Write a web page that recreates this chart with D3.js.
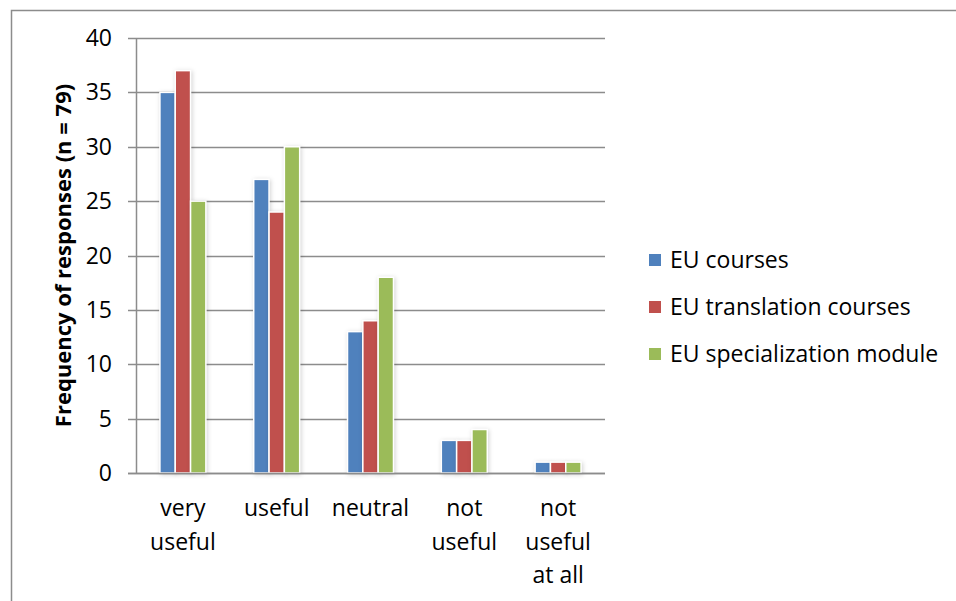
<!DOCTYPE html>
<html>
<head>
<meta charset="utf-8">
<script src="https://cdn.jsdelivr.net/npm/d3@7"></script>
<style>
  body { margin: 0; background: #fff; }
  text { font-family: "Open Sans", "DejaVu Sans", sans-serif; fill: #000; }
</style>
</head>
<body>
<div id="chart"></div>
<script>
// data
var categories = ["very useful", "useful", "neutral", "not useful", "not useful at all"];
var catLines = [["very", "useful"], ["useful"], ["neutral"], ["not", "useful"], ["not", "useful", "at all"]];
var seriesNames = ["EU courses", "EU translation courses", "EU specialization module"];
var euCourses = [35, 27, 13, 3, 1];
var euTranslation = [37, 24, 14, 3, 1];
var euSpecialization = [25, 30, 18, 4, 1];
var yTicks = [0, 5, 10, 15, 20, 25, 30, 35, 40];
var colors = ["#4f81bd", "#c0504d", "#9bbb59"];

var seriesValues = [euCourses, euTranslation, euSpecialization];

var W = 956, H = 601;
var plot = {left: 136, right: 605, top: 38, bottom: 473};

var svg = d3.select("#chart")
    .append("svg")
    .attr("width", W)
    .attr("height", H);

// outer chart frame (bottom and right fall outside the picture)
svg.append("path")
    .attr("d", "M11.5," + H + " L11.5,10.5 L" + W + ",10.5")
    .attr("fill", "none")
    .attr("stroke", "#8c8c8c")
    .attr("stroke-width", 1.5);

var x0 = d3.scaleBand()
    .domain(categories)
    .range([plot.left, plot.right])
    .paddingInner(0.51)
    .paddingOuter(0.255);

var x1 = d3.scaleBand()
    .domain(seriesNames)
    .range([0, x0.bandwidth()]);

var y = d3.scaleLinear()
    .domain([0, 40])
    .range([plot.bottom, plot.top]);

// gridlines + left ticks
svg.append("g")
    .selectAll("line")
    .data(yTicks)
    .enter().append("line")
    .attr("x1", plot.left - 8)
    .attr("x2", plot.right)
    .attr("y1", function(d) { return Math.round(y(d)) + 0.5; })
    .attr("y2", function(d) { return Math.round(y(d)) + 0.5; })
    .attr("stroke", "#8c8c8c")
    .attr("stroke-width", 1.5);

// y axis line
svg.append("line")
    .attr("x1", plot.left + 0.5)
    .attr("x2", plot.left + 0.5)
    .attr("y1", y(40))
    .attr("y2", y(0))
    .attr("stroke", "#8c8c8c")
    .attr("stroke-width", 1.5);

// y tick labels
svg.append("g")
    .selectAll("text")
    .data(yTicks)
    .enter().append("text")
    .attr("x", plot.left - 24)
    .attr("y", function(d) { return y(d); })
    .attr("dy", "0.35em")
    .attr("text-anchor", "end")
    .style("font-size", "23px")
    .text(function(d) { return d; });

// bars
var groups = svg.append("g")
    .selectAll("g")
    .data(categories)
    .enter().append("g")
    .attr("transform", function(d) { return "translate(" + x0(d) + ",0)"; });

groups.selectAll("rect")
    .data(function(d, i) {
        return seriesNames.map(function(s, j) { return {name: s, value: seriesValues[j][i], k: j}; });
    })
    .enter().append("rect")
    .attr("x", function(d) { return x1(d.name); })
    .attr("y", function(d) { return y(d.value); })
    .attr("width", x1.bandwidth())
    .attr("height", function(d) { return y(0) - y(d.value); })
    .attr("fill", function(d) { return colors[d.k]; })
    .attr("stroke", "#fff")
    .attr("stroke-width", 1.5)
    .style("filter", "drop-shadow(1px 1px 2px rgba(0,0,0,0.18))");

// redraw zero line over bars
svg.append("line")
    .attr("x1", plot.left - 8)
    .attr("x2", plot.right)
    .attr("y1", Math.round(y(0)) + 0.5)
    .attr("y2", Math.round(y(0)) + 0.5)
    .attr("stroke", "#8c8c8c")
    .attr("stroke-width", 1.5);

// category labels
var catLabels = svg.append("g")
    .selectAll("text")
    .data(categories)
    .enter().append("text")
    .attr("text-anchor", "middle")
    .style("font-size", "23px")
    .attr("transform", function(d) { return "translate(" + (x0(d) + x0.bandwidth() / 2) + ",516)"; });

catLabels.selectAll("tspan")
    .data(function(d, i) { return catLines[i]; })
    .enter().append("tspan")
    .attr("x", 0)
    .attr("y", function(d, i) { return i * 33.5; })
    .text(function(d) { return d; });

// y axis title
svg.append("text")
    .attr("transform", "translate(71," + ((plot.top + plot.bottom) / 2) + ") rotate(-90)")
    .attr("text-anchor", "middle")
    .style("font-size", "22px")
    .style("font-weight", "bold")
    .text("Frequency of responses (n = 79)");

// legend
var legend = svg.append("g")
    .selectAll("g")
    .data(seriesNames)
    .enter().append("g")
    .attr("transform", function(d, i) { return "translate(649," + (260 + i * 47) + ")"; });

legend.append("rect")
    .attr("x", 0)
    .attr("y", -6)
    .attr("width", 12)
    .attr("height", 12)
    .attr("fill", function(d, i) { return colors[i]; });

legend.append("text")
    .attr("x", 21)
    .attr("y", 0)
    .attr("dy", "0.35em")
    .style("font-size", "23px")
    .text(function(d) { return d; });
</script>
</body>
</html>
